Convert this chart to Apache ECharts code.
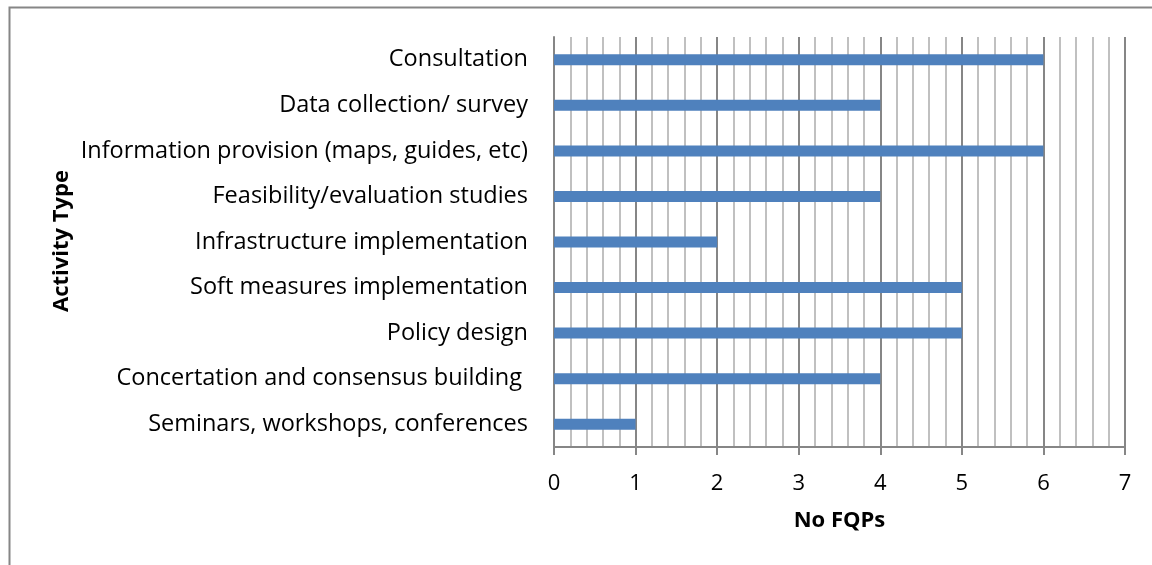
<!DOCTYPE html>
<html><head><meta charset="utf-8">
<script src="https://cdn.jsdelivr.net/npm/echarts@6/dist/echarts.min.js"></script>
<style>html,body{margin:0;padding:0;background:#fff}#c{width:1152px;height:565px}</style>
</head><body><div id="c"></div>
<script>
const categories = [
  "Seminars, workshops, conferences",
  "Concertation and consensus building ",
  "Policy design",
  "Soft measures implementation",
  "Infrastructure implementation",
  "Feasibility/evaluation studies",
  "Information provision (maps, guides, etc)",
  "Data collection/ survey",
  "Consultation"
];
const values = [1, 4, 5, 5, 2, 4, 6, 4, 6];
const xTicks = [0, 1, 2, 3, 4, 5, 6, 7];
const xTitle = "No FQPs";
const yTitle = "Activity Type";

const FONT = "Open Sans";
const chart = echarts.init(document.getElementById('c'), null, {renderer: 'canvas'});
chart.setOption({
  animation: false,
  backgroundColor: '#fff',
  graphic: [{
    type: 'rect', shape: {x: 9.5, y: 7.5, width: 1200, height: 600},
    style: {fill: 'none', stroke: '#868686', lineWidth: 2}, silent: true
  }, {
    type: 'text', rotation: Math.PI / 2, x: 62, y: 241,
    style: {text: yTitle, font: 'bold 22px "' + FONT + '"', fill: '#000', textAlign: 'center', textVerticalAlign: 'middle'}
  }],
  grid: {left: 554, right: 27, top: 37, bottom: 118, containLabel: false},
  xAxis: {
    type: 'value', min: xTicks[0], max: xTicks[xTicks.length - 1], interval: 1,
    name: xTitle, nameLocation: 'middle', nameGap: 63,
    nameTextStyle: {fontFamily: FONT, fontSize: 22, fontWeight: 'bold', color: '#000', verticalAlign: 'top'},
    axisLine: {show: true, lineStyle: {color: '#868686', width: 2}},
    axisTick: {show: true, length: 8, lineStyle: {color: '#868686', width: 2}},
    axisLabel: {fontFamily: FONT, fontSize: 22, color: '#000', margin: 26},
    splitLine: {show: true, lineStyle: {color: '#868686', width: 2}},
    minorTick: {show: false, splitNumber: 5},
    minorSplitLine: {show: true, lineStyle: {color: '#c0c0c0', width: 2}}
  },
  yAxis: {
    type: 'category', data: categories,
    axisLine: {show: true, lineStyle: {color: '#868686', width: 2}},
    axisTick: {show: false},
    axisLabel: {fontFamily: FONT, fontSize: 23.5, color: '#000', margin: 26},
    splitLine: {show: false}
  },
  series: [{
    type: 'bar', data: values, barWidth: 11,
    itemStyle: {color: '#4F81BD'}
  }]
});
</script></body></html>
